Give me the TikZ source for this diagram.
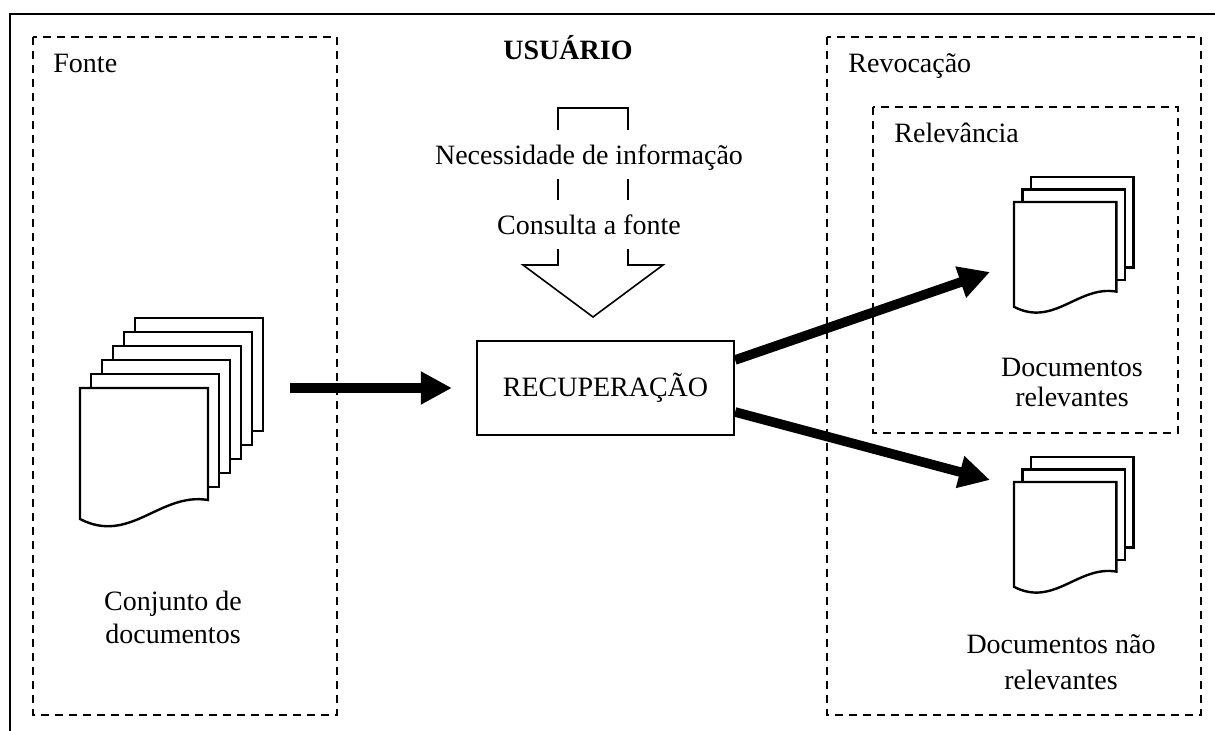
\documentclass[tikz,border=0pt]{standalone}
\usepackage{fontspec}
\setmainfont{Liberation Serif}
\usepackage{xcolor}
\usepackage{tikz}
\usetikzlibrary{arrows.meta}

\begin{document}
\begin{tikzpicture}[x=0.5pt, y=-0.5pt,
  font=\fontsize{14}{16.5}\selectfont,
  area/.style={draw=black, line width=1.1pt, dash pattern=on 4pt off 3pt},
  title/.style={anchor=base west, inner sep=0pt},
  proc/.style={rectangle, draw=black, line width=1.1pt, minimum width=128.5pt, minimum height=47pt, inner sep=0pt},
  need/.style={anchor=base, fill=white, inner xsep=1pt, inner ysep=0pt, text height=17.5pt, text depth=7pt},
  caption/.style={align=center, inner sep=0pt},
  page/.style={draw=black, fill=white, line width=1.2pt},
  backpage/.pic={\draw[page] (0,0) rectangle (128,113);},
  frontpage/.pic={\draw[page] (0,0) -- (128,0) -- (128,112) .. controls (80,104) and (50,157) .. (0,131) -- cycle;},
  line/.style={draw, line width=4.8pt, -{Triangle[length=15.5pt, width=15.5pt]}}]
\useasboundingbox (0,0) rectangle (1215,731);
% frame and areas
\draw[line width=1.3pt] (10,731) -- (10,14) -- (1215,14);
\draw[area] (33,37) rectangle (337,715);
\draw[area] (827,37) rectangle (1201,715);
\draw[area] (873,107) rectangle (1178,433);
\node[title] (fonte) at (53,73) {Fonte};
\node[title] (revoc) at (848,73) {Revocação};
\node[title] (relev) at (894,143) {Relevância};
% documents
\foreach \i in {5,4,3,2,1}
  \pic at ({80+11*\i},{388-14*\i}) {backpage};
\pic at (80,388) {frontpage};
\foreach \y in {202,482} {
  \foreach \i in {2,1}
    \pic[scale=0.8] at ({1014+8.5*\i},{\y-12.5*\i}) {backpage};
  \pic[scale=0.8] at (1014,\y) {frontpage};
}
\node[caption] (conjunto) at (173,617) {Conjunto de\\documentos};
\node[caption, font=\fontsize{14}{15}\selectfont] (relevantes) at (1072,382.5) {Documentos\\relevantes};
\node[caption, font=\fontsize{14}{18}\selectfont] (naorelev) at (1061,662.5) {Documentos não\\relevantes};
% user
\node[anchor=base, inner sep=0pt, font=\fontsize{14}{16.5}\selectfont\bfseries] (usuario) at (568,60) {USUÁRIO};
\draw[line width=0.8pt] (558,108) -- (628,108) -- (628,265) -- (663,265) -- (593,317) -- (523,265) -- (558,265) -- cycle;
\node[need] (necess) at (589,165) {Necessidade de informação};
\node[need] (consulta) at (589,235) {Consulta a fonte};
\node[proc] (recup) at (605.5,388) {RECUPERAÇÃO};
\coordinate (conjout) at (290,388);
\coordinate (relin) at (990,272);
\coordinate (naoin) at (990,480);
\begin{scope}[every path/.style=line]
\path[shorten >=12pt] (conjout) -- (recup.west);
\path ([yshift=14pt]recup.east) -- (relin);
\path ([yshift=-12pt]recup.east) -- (naoin);
\end{scope}
\end{tikzpicture}
\end{document}
